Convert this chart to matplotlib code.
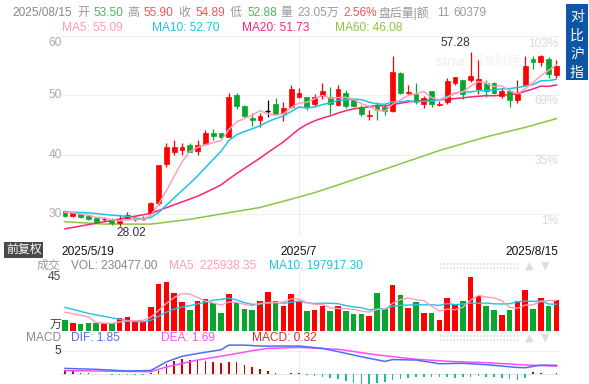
import numpy as np
import matplotlib
matplotlib.use("Agg")
import matplotlib.pyplot as plt
from matplotlib.patches import Rectangle
from matplotlib.lines import Line2D
import matplotlib.transforms as mtrans

plt.rcParams['font.family'] = ['Liberation Sans', 'Noto Sans CJK SC', 'DejaVu Sans']

# ---------------- data ----------------
opens = [30.5, 29.7, 29.95, 29.7, 29.4, 29.1, 29.15, 28.55, 29.3, 29.05,
         29.15, 30.1, 31.8, 38.4, 40.5, 40.75, 41.7, 40.6, 41.8, 43.7,
         43.6, 43.0, 50.0, 48.2, 46.2, 45.8, 47.3, 48.6, 47.1, 48.0,
         49.7, 49.7, 48.5, 49.9, 49.8, 48.4, 50.45, 49.2, 48.0, 46.5,
         48.15, 48.0, 47.3, 53.8, 50.4, 50.3, 48.6, 50.7, 48.4, 48.9,
         52.0, 52.5, 52.5, 51.0, 52.1, 52.1, 49.9, 50.8, 49.2, 51.7,
         56.05, 55.6, 56.2, 53.5]
highs = [30.6, 30.3, 30.05, 29.8, 29.45, 29.5, 29.3, 29.8, 30.3, 29.5,
         29.6, 32.1, 38.2, 41.9, 42.4, 41.9, 41.9, 42.5, 44.1, 44.4,
         43.7, 50.45, 50.4, 48.3, 46.95, 47.0, 49.2, 49.5, 48.8, 51.7,
         51.2, 49.8, 50.2, 52.0, 51.4, 51.8, 50.95, 49.3, 48.4, 47.5,
         48.9, 48.6, 56.55, 53.9, 51.7, 52.1, 49.9, 50.8, 49.0, 53.0,
         53.1, 52.5, 57.28, 55.9, 52.6, 52.3, 51.3, 51.0, 52.5, 56.7,
         56.7, 56.8, 56.4, 55.9]
lows = [29.5, 29.45, 29.4, 29.05, 28.6, 28.9, 28.2, 28.02, 29.2, 28.9,
        29.0, 30.0, 31.6, 38.0, 39.9, 40.0, 40.4, 39.9, 41.7, 42.5,
        42.8, 42.9, 47.75, 46.4, 44.8, 44.7, 46.35, 46.8, 45.6, 47.9,
        49.5, 47.6, 48.15, 49.45, 46.9, 48.2, 47.8, 48.0, 46.6, 45.8,
        45.9, 46.7, 47.2, 50.3, 50.0, 48.6, 47.9, 48.0, 48.2, 48.6,
        51.8, 49.3, 52.3, 50.3, 49.8, 50.2, 49.6, 48.0, 48.7, 51.6,
        54.5, 54.9, 53.0, 52.88]
closes = [29.6, 30.2, 29.55, 29.15, 28.7, 29.2, 28.45, 28.9, 29.8, 29.15,
          29.25, 31.8, 38.2, 41.3, 41.3, 41.3, 40.5, 41.7, 43.6, 43.1,
          42.9, 49.8, 48.2, 46.5, 45.9, 46.6, 47.3, 46.9, 47.8, 51.0,
          50.45, 48.0, 49.8, 50.7, 48.6, 51.0, 48.2, 48.2, 46.8, 46.7,
          47.6, 47.4, 54.0, 50.45, 50.55, 48.9, 49.5, 48.6, 48.6, 52.4,
          53.1, 50.2, 53.3, 52.7, 50.8, 50.4, 50.7, 49.2, 50.3, 54.9,
          55.6, 56.6, 53.65, 54.89]
# volume in 万 shares
volumes = [8.2, 6.2, 5.0, 5.9, 5.9, 5.9, 5.7, 9.7, 10.4, 6.7,
           6.7, 17.8, 34.9, 36.7, 28.5, 21.6, 15.6, 22.3, 23.8, 21.0,
           13.2, 27.5, 21.0, 16.4, 15.6, 22.3, 29.0, 22.3, 18.6, 27.5,
           21.8, 15.1, 15.8, 18.8, 15.1, 18.8, 15.1, 12.6, 12.6, 11.2,
           28.5, 16.1, 34.2, 26.8, 17.3, 21.6, 13.4, 13.4, 8.2, 24.8,
           19.3, 22.3, 40.4, 25.8, 18.6, 15.8, 11.9, 15.8, 22.3, 30.7,
           16.6, 24.8, 18.6, 23.05]

ma5_head_idx, ma5_head = [0, 1, 2, 3], [30.3, 30.2, 30.0, 29.8]
ma10_head_idx, ma10_head = [0, 3, 6, 8], [30.35, 30.2, 29.8, 29.6]
ma20_head_idx, ma20_head = [0, 11, 17], [27.5, 30.1, 33.0]
ma60_idx = [0, 5, 11, 16, 20, 25, 29, 32, 35, 42, 48, 54, 59, 63]
ma60_val = [28.7, 28.3, 28.3, 29.1, 30.0, 31.1, 32.5, 33.6, 34.9, 38.0, 40.7, 43.0, 44.6, 46.08]
vma5_head_idx, vma5_head = [0, 3], [13.9, 10.6]
vma10_head_idx, vma10_head = [0, 3, 7], [17.6, 13.1, 8.7]

dif_idx = [0, 4, 8, 11, 13, 15, 17, 20, 21, 23, 25, 30, 33, 35, 38, 41, 42, 45, 48, 51, 54, 58, 59, 61, 63]
dif_val = [1.2, 1.0, 0.65, 0.75, 2.6, 3.8, 4.4, 5.2, 6.2, 6.2, 6.0, 6.0, 5.5, 4.8, 3.7, 2.7, 3.1,
           3.0, 2.2, 2.3, 2.0, 1.4, 1.35, 1.9, 1.85]
dea_idx = [0, 11, 13, 17, 21, 24, 26, 30, 35, 40, 45, 50, 54, 59, 63]
dea_val = [0.72, 0.5, 1.5, 3.0, 4.1, 5.0, 5.5, 5.7, 5.3, 4.1, 3.15, 2.65, 2.43, 1.95, 1.69]
macd_hist = [0.86, 0.57, 0.29, 0.14, 0.0, -0.07, -0.21, -0.21, -0.21, -0.21,
             -0.21, 0.21, 0.72, 2.15, 2.7, 3.2, 3.0, 3.0, 2.7, 2.65,
             2.3, 2.5, 2.5, 2.0, 1.43, 1.0, 0.57, 0.21, 0.07, 0.21,
             0.14, -0.21, -0.36, -0.57, -0.86, -1.14, -1.57, -2.0, -2.15, -2.15,
             -2.0, -1.8, -1.3, -1.07, -0.86, -0.72, -0.72, -0.64, -0.57, -0.72,
             -0.86, -0.72, -0.57, -0.43, -0.57, -0.72, -0.86, -1.07, -1.3, -0.86,
             0.43, 0.21, 0.07, 0.32]

date_labels = ["2025/5/19", "2025/7", "2025/8/15"]
date_idx = [0, 30, 63]
price_ticks = [60, 50, 40, 30]
pct_ticks = [1, 35, 69, 103]

# ---------------- colors ----------------
RED = '#ff0000'
GREEN = '#0aa52c'
C_MA5 = '#ff9dba'
C_MA10 = '#1cc4e4'
C_MA20 = '#ff2277'
C_MA60 = '#8cc63f'
C_DIF = '#4d6ef0'
C_DEA = '#ff4dff'

W, H = 589, 384
fig = plt.figure(figsize=(W / 100, H / 100), dpi=100)


def rect(x0, y0, x1, y1):
    return [x0 / W, 1 - y1 / H, (x1 - x0) / W, (y1 - y0) / H]


def ftxt(x, y, s, color='#888888', ha='left', va='center', size=8.6, **kw):
    fig.text(x / W, 1 - y / H, s, color=color, ha=ha, va=va, fontsize=size, **kw)


n = len(closes)
idx = np.arange(n)
X0, X1 = 60, 560
xlim = ((X0 - 65) / 7.8, (X1 - 65) / 7.8)


def rolling(vals, w, head_idx, head_vals):
    v = np.asarray(vals, float)
    xs = list(head_idx)
    ys = list(head_vals)
    for i in range(w - 1, len(v)):
        xs.append(i)
        ys.append(v[i - w + 1:i + 1].mean())
    return xs, ys


def style(ax):
    ax.set_xlim(*xlim)
    for s in ax.spines.values():
        s.set_visible(False)
    ax.set_xticks([])
    ax.set_yticks([])
    ax.patch.set_alpha(0)


# ---------------- price panel ----------------
axp = fig.add_axes(rect(X0, 36, X1, 236))
style(axp)
ylo = 30 - (236 - 214) / 5.933
axp.set_ylim(ylo, 60)
for p in [30, 40, 50, 60]:
    axp.axhline(p, color='#f0f0f0', lw=0.8, zorder=0)
axp.axvline(date_idx[1], color='#ececec', lw=0.8, zorder=0)

ytr = axp.get_yaxis_transform()
for p in price_ticks:
    va = 'top' if p == 60 else 'center'
    yy = 59.9 if p == 60 else p
    axp.text(0.004, yy, str(p), transform=ytr, ha='right', va=va, color='#aaaaaa', fontsize=8.6)
base = closes[0]
for pc in pct_ticks:
    yy = min(base * (1 + pc / 100), 59.7)
    axp.text(0.996, yy, f"{pc}%", transform=ytr, ha='right', va='top', color='#d9d9d9', fontsize=8.6)

# watermark
axp.text(0.78, 0.87, "sina", transform=axp.transAxes, color='#f1f1f1', fontsize=11,
         style='italic', fontweight='bold', ha='center', va='center', zorder=0)
axp.text(0.87, 0.87, "新浪财经", transform=axp.transAxes, color='#f1f1f1', fontsize=9,
         ha='center', va='center', zorder=0)

axp.plot(ma60_idx, ma60_val, color=C_MA60, lw=1.1, zorder=2)
xs, ys = rolling(closes, 20, ma20_head_idx, ma20_head)
axp.plot(xs, ys, color=C_MA20, lw=1.1, zorder=2)
xs, ys = rolling(closes, 10, ma10_head_idx, ma10_head)
axp.plot(xs, ys, color=C_MA10, lw=1.1, zorder=4)
xs, ys = rolling(closes, 5, ma5_head_idx, ma5_head)
axp.plot(xs, ys, color=C_MA5, lw=1.1, zorder=4)

bw = 0.64
for i in range(n):
    o, h, l, c = opens[i], highs[i], lows[i], closes[i]
    col = RED if c > o else (GREEN if c < o else '#000000')
    axp.vlines(i, l, h, color=col, lw=0.9, zorder=3)
    bh = abs(c - o)
    if bh < 0.12:
        axp.hlines((o + c) / 2, i - bw / 2, i + bw / 2, color=col, lw=1.0, zorder=3)
    else:
        axp.add_patch(Rectangle((i - bw / 2, min(o, c)), bw, bh, facecolor=col,
                                edgecolor=col, lw=0.5, zorder=3))

hi_i = int(np.argmax(highs))
lo_i = int(np.argmin(lows))
axp.annotate(f"{highs[hi_i]:.2f}", (hi_i, highs[hi_i]), xytext=(0, 2), textcoords='offset points',
             ha='right', va='bottom', color='#333333', fontsize=8.6)
axp.annotate(f"{lows[lo_i]:.2f}", (lo_i, lows[lo_i]), xytext=(-2, -1), textcoords='offset points',
             ha='left', va='top', color='#333333', fontsize=8.6)

btr = mtrans.blended_transform_factory(axp.transData, fig.transFigure)
for lab, di, ha in zip(date_labels, date_idx, ['left', 'center', 'right']):
    dx = -0.4 if ha == 'left' else (0.3 if ha == 'right' else 0)
    axp.text(di + dx, 1 - 252 / H, lab, transform=btr, ha=ha, va='center', color='#111111', fontsize=8.6)

# ---------------- volume panel ----------------
axv = fig.add_axes(rect(X0, 272, X1, 331))
style(axv)
axv.set_ylim(0, (331 - 272) / 1.345)
axv.axvline(date_idx[1], color='#ececec', lw=0.8, zorder=0)
vcols = [RED if closes[i] >= opens[i] else GREEN for i in range(n)]
axv.bar(idx, volumes, width=0.72, color=vcols, zorder=2)
xs, ys = rolling(volumes, 10, vma10_head_idx, vma10_head)
axv.plot(xs, ys, color=C_MA10, lw=1.0, zorder=3)
xs, ys = rolling(volumes, 5, vma5_head_idx, vma5_head)
axv.plot(xs, ys, color=C_MA5, lw=1.0, zorder=3)

# ---------------- MACD panel ----------------
axm = fig.add_axes(rect(X0, 342, X1, 384))
style(axm)
zero_y = 374
pxu = 4.66
axm.set_ylim(-(384 - zero_y) / pxu, (zero_y - 342) / pxu)
axm.axhline(0, color='#e6e6e6', lw=0.8, zorder=0)
axm.axhline(5, color='#f0f0f0', lw=0.8, zorder=0)
axm.axvline(date_idx[1], color='#ececec', lw=0.8, zorder=0)
hcols = ['#cc0000' if v >= 0 else '#13c0a0' for v in macd_hist]
axm.bar(idx, macd_hist, width=0.2, color=hcols, zorder=2)
axm.plot(dea_idx, dea_val, color=C_DEA, lw=1.1, zorder=3)
axm.plot(dif_idx, dif_val, color=C_DIF, lw=1.1, zorder=3)

# ---------------- header texts ----------------
G1, R1, GR = '#4fb45a', '#f35454', '#999999'
row1 = [(12, "2025/08/15", '#888888'), (77, "开", GR), (93, "53.50", G1), (127, "高", GR),
        (143, "55.90", R1), (178, "收", GR), (195, "54.89", R1), (230, "低", GR),
        (247, "52.88", G1), (280, "量", GR), (297, "23.05万", GR), (343, "2.56%", R1),
        (378, "盘后量|额", GR), (437, "11", GR), (453, "60379", GR)]
for x, s, c in row1:
    ftxt(x, 13, s, color=c)
row2 = [(62, "MA5: 55.09", C_MA5), (152, "MA10: 52.70", C_MA10),
        (242, "MA20: 51.73", C_MA20), (335, "MA60: 46.08", C_MA60)]
for x, s, c in row2:
    ftxt(x, 28, s, color=c)

# compare button
fig.add_artist(Rectangle((566 / W, 1 - 80 / H), 22 / W, 76 / H, transform=fig.transFigure,
                         facecolor='#0f55a5', edgecolor='none'))
for k, ch in enumerate("对比沪指"):
    ftxt(577, 17 + k * 18.5, ch, color='white', ha='center', size=10)

# 前复权 tag
ftxt(6, 250, "前复权", color='white', ha='left', size=8.6,
     bbox=dict(boxstyle='square,pad=0.15', facecolor='#4a4a4a', edgecolor='none'))

# volume header
ftxt(37, 266, "成交", color=GR)
ftxt(71, 266, "VOL: 230477.00", color='#888888')
ftxt(169, 266, "MA5: 225938.35", color=C_MA5)
ftxt(269, 266, "MA10: 197917.30", color=C_MA10)
ftxt(61, 277, "45", color='#444444', ha='right')
ftxt(61, 325, "万", color='#444444', ha='right')

# macd header
ftxt(26, 338, "MACD", color='#888888')
ftxt(71, 338, "DIF: 1.85", color=C_DIF)
ftxt(161, 338, "DEA: 1.69", color=C_DEA)
ftxt(252, 338, "MACD: 0.32", color='#c9302c')
ftxt(61, 351, "5", color='#333333', ha='right')

for yrow in (266, 338):
    for dy in (-2, 2):
        fig.add_artist(Line2D([440 / W, 518 / W], [1 - (yrow + dy) / H] * 2, transform=fig.transFigure,
                              color='#dddddd', lw=1.2, linestyle=(0, (1, 1))))
    ftxt(529, yrow, "▲", color='#dddddd', ha='center', size=8, family='DejaVu Sans')
    ftxt(545, yrow, "▼", color='#dddddd', ha='center', size=8, family='DejaVu Sans')

fig.savefig("out.png", dpi=100)
